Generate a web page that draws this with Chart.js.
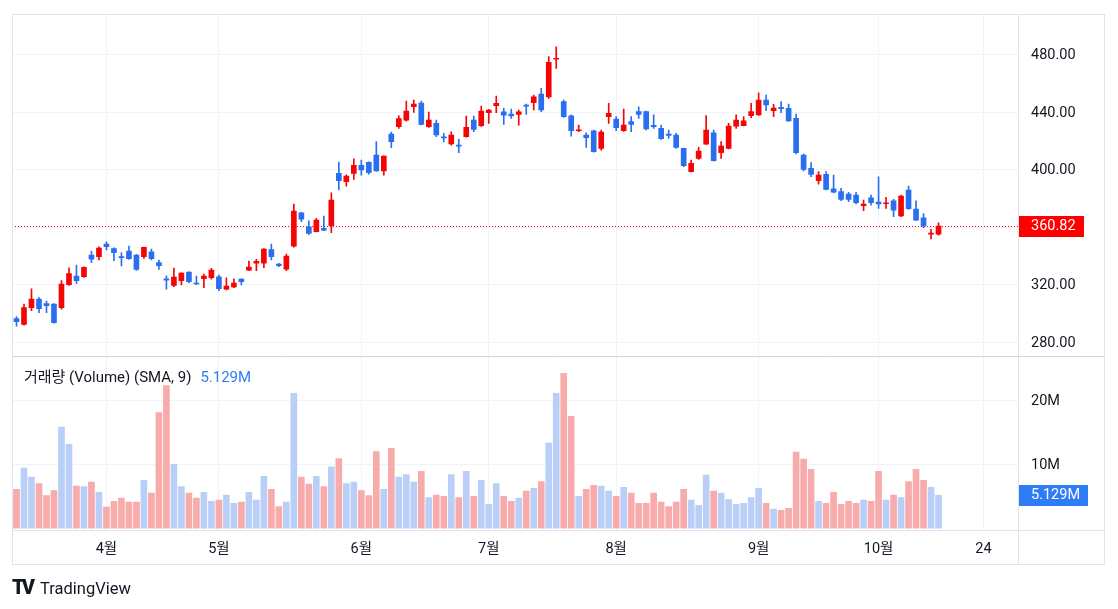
<!DOCTYPE html>
<html><head><meta charset="utf-8">
<script src="https://cdn.jsdelivr.net/npm/chart.js@4.4.1/dist/chart.umd.min.js"></script>
<style>
html,body{margin:0;padding:0;background:#fff;}
#wrap{position:relative;width:1118px;height:609px;overflow:hidden;}
#c{position:absolute;left:0;top:0;}
#legend{position:absolute;left:24px;top:368px;font:15px Roboto,'Noto Sans CJK KR',sans-serif;line-height:18px;color:#131722;white-space:nowrap;}
#legend .v{color:#2f7df6;margin-left:9px;}
#logo{position:absolute;left:12px;top:577px;font:16.5px Roboto,sans-serif;line-height:20px;color:#131722;white-space:nowrap;}
#logo b{font-size:20px;font-weight:900;letter-spacing:-3px;margin-right:8px;}
</style></head>
<body><div id="wrap"><canvas id="c" width="1118" height="609"></canvas>
<div id="legend">거래량 (Volume) (SMA, 9)<span class="v">5.129M</span></div>
<div id="logo"><b>TV</b>TradingView</div></div>
<script>
// ---- data (one entry per trading day) ----
const openP = [296.6,292.5,304.1,310.1,306.9,306.6,304.1,320.1,326.1,325.6,340.7,339.6,348.3,345.3,339.6,343.5,340.7,339.6,343.0,335.4,
324.2,319.6,322.9,328.9,321.2,324.2,324.9,325.6,316.9,318.5,324.0,330.2,335.0,335.0,344.6,334.5,330.9,346.9,370.0,360.4,
357.0,359.3,361.1,397.5,391.7,397.5,403.1,405.2,410.3,399.3,424.9,430.0,434.6,443.9,446.4,430.0,432.3,422.7,418.1,417.2,
423.1,434.6,430.7,439.8,444.6,440.4,438.8,438.6,445.1,446.7,452.7,450.8,476.9,447.4,437.5,427.2,424.2,427.2,414.9,437.0,
435.3,427.2,433.5,440.5,440.5,430.9,428.8,424.9,424.2,414.9,398.7,408.0,417.9,425.8,411.9,414.9,430.4,430.7,437.7,438.2,
448.5,441.2,443.5,442.8,435.9,410.3,401.0,392.4,396.8,386.7,384.8,383.1,382.4,375.0,380.6,377.6,376.4,378.5,367.9,385.9,
372.7,366.6,355.3,355.3];
const highP = [297.9,306.6,317.3,311.2,308.7,307.0,322.9,331.9,333.8,332.6,343.5,346.5,349.9,345.7,342.3,346.9,341.2,346.2,344.9,337.3,
326.3,331.6,328.4,329.1,326.1,327.5,331.4,326.8,324.9,324.2,324.1,336.6,337.7,345.3,348.3,335.0,341.4,376.2,370.4,364.6,
366.2,367.9,384.0,405.4,396.6,407.7,406.8,405.6,419.6,409.8,426.3,437.5,447.8,448.5,447.8,440.2,434.6,425.4,426.5,421.2,
437.4,437.4,444.4,442.0,451.3,442.8,442.3,441.6,445.8,452.0,456.7,478.7,485.6,448.5,438.2,431.1,425.8,427.7,427.7,446.2,
437.0,442.3,437.0,443.9,440.8,438.2,431.1,427.7,425.4,415.1,406.8,415.6,437.7,427.7,419.6,432.3,438.2,437.0,446.2,453.6,
452.0,445.5,447.4,445.8,438.8,411.0,405.0,398.7,398.7,396.4,387.1,384.3,384.3,379.0,382.4,395.2,380.8,379.4,382.4,388.7,
378.5,369.6,358.6,363.2];
const lowP = [291.3,291.9,302.0,300.6,300.6,293.4,303.0,319.6,321.0,325.1,335.4,337.3,344.2,336.8,333.1,337.7,330.1,338.4,337.3,330.7,
316.9,318.7,319.9,321.5,320.1,318.0,324.0,315.9,316.4,318.0,319.9,329.8,329.8,332.0,337.3,332.6,329.8,346.2,363.9,355.1,
356.8,357.6,356.3,386.0,388.7,393.3,396.3,397.0,399.0,396.3,415.4,428.8,433.9,440.0,431.2,429.5,423.1,419.4,417.2,411.9,
422.7,426.5,430.2,432.3,439.8,431.6,435.7,431.1,438.6,441.6,440.4,449.7,470.5,436.5,423.5,426.5,415.6,412.3,413.7,432.3,
427.2,426.7,426.5,435.7,427.7,428.8,421.2,421.9,414.9,402.2,398.5,407.3,417.6,406.1,408.0,414.6,428.8,430.5,436.3,437.8,
441.2,437.0,439.8,433.7,411.0,399.3,395.2,390.1,386.0,384.0,378.5,377.8,376.2,371.6,375.5,373.2,373.2,367.4,367.4,372.4,
364.8,359.7,351.9,354.6];
const closeP = [294.3,304.1,310.1,303.4,305.5,293.6,320.6,327.9,322.9,332.1,337.9,345.6,346.5,342.3,338.9,338.2,330.7,346.0,338.2,333.3,
323.3,325.4,328.2,322.2,320.6,326.1,330.2,317.3,319.2,321.2,322.2,332.4,336.3,344.9,339.6,333.3,340.0,371.3,365.7,355.8,
365.0,358.1,379.0,392.4,395.7,403.1,400.0,398.0,399.3,409.6,419.6,435.7,440.9,445.8,431.6,434.6,424.2,422.2,424.2,416.5,
429.5,428.1,440.9,441.6,446.2,438.1,437.5,440.4,444.2,450.8,441.6,474.8,477.6,437.0,427.2,427.9,422.4,412.6,426.3,439.3,
429.3,431.1,431.6,438.6,428.4,430.0,421.7,424.0,415.6,402.9,404.5,413.1,427.7,406.4,416.5,430.4,434.6,434.1,440.5,448.5,
445.1,443.0,442.5,434.1,411.9,400.3,396.8,396.4,386.4,384.4,379.4,379.4,377.1,376.2,377.1,376.2,377.1,372.0,381.7,373.0,
365.0,360.9,355.8,360.82];
const volumeM = [6.1,9.4,8.0,7.0,5.1,5.9,15.8,13.1,6.6,6.5,7.2,5.6,3.3,4.2,4.7,4.1,4.1,7.5,5.5,18.1,
22.3,10.0,6.5,5.5,4.7,5.6,4.2,4.4,5.2,3.9,4.1,5.6,4.4,8.1,6.1,3.4,4.1,21.1,8.0,6.9,
8.1,6.5,9.6,10.9,7.0,7.2,5.9,5.1,12.0,6.1,12.5,8.0,8.4,7.2,8.9,4.8,5.2,5.0,8.4,4.8,
8.9,5.0,7.5,3.75,7.0,5.0,4.2,4.7,5.8,6.25,7.3,13.3,21.1,24.2,17.5,5.0,6.1,6.7,6.6,5.8,
5.0,6.4,5.5,3.9,3.9,5.5,4.1,3.4,4.1,6.1,4.4,3.6,8.3,5.8,5.5,4.5,3.75,3.9,4.8,6.25,
3.9,3.0,2.8,3.1,11.9,10.8,9.2,4.2,3.9,5.6,3.75,4.2,3.9,4.4,4.2,8.9,4.4,5.2,4.8,7.3,
9.2,7.5,6.4,5.129];
const timeTickIdx = [12, 27, 46, 63, 80, 99, 115, 129];
const timeTickLabels = ['4월', '5월', '6월', '7월', '8월', '9월', '10월', '24'];
const priceTicks = [280, 320, 360, 400, 440, 480];
const volumeTicks = [10, 20];
const lastPriceLabel = '360.82';
const lastVolumeLabel = '5.129M';

// ---- styles ----
const UP = '#f50505', DOWN = '#2a6ff0';
const VOL_UP = '#b9cff7', VOL_DOWN = '#f8abab';
const GRID = '#f0f3fa', FRAME = '#e0e3eb', TEXT = '#131722';

const isUp = i => closeP[i] >= openP[i];
const bodies = openP.map((o, i) => ({x: i, y: [o, closeP[i]]}));
const wicks = lowP.map((l, i) => ({x: i, y: [l, highP[i]]}));
const vols = volumeM.map((v, i) => ({x: i, y: v}));

Chart.defaults.font.family = "Roboto, 'Noto Sans CJK KR', sans-serif";
Chart.defaults.font.size = 14.5;
Chart.defaults.color = TEXT;

const noPad = s => { s.paddingTop = 0; s.paddingBottom = 0; };

const deco = {
  id: 'deco',
  beforeDatasetsDraw(chart) {
    const {ctx, chartArea: a, scales: {y}} = chart;
    const py = Math.round(y.getPixelForValue(closeP[closeP.length - 1])) + 0.5;
    ctx.save();
    ctx.strokeStyle = '#ff0000'; ctx.lineWidth = 1; ctx.setLineDash([1, 2]);
    ctx.beginPath(); ctx.moveTo(a.left, py); ctx.lineTo(a.right, py); ctx.stroke();
    ctx.restore();
  },
  afterDraw(chart) {
    const {ctx, chartArea: a, scales: {y, yv, x}} = chart;
    ctx.save();
    ctx.strokeStyle = FRAME; ctx.lineWidth = 1;
    const L = a.left + 0.5, R = y.right + 0.5, T = a.top + 0.5, B = Math.round(x.bottom) + 0.5;
    ctx.strokeRect(L, T, R - L, B - T);
    ctx.beginPath();
    ctx.moveTo(Math.round(a.right) + 0.5, T); ctx.lineTo(Math.round(a.right) + 0.5, B);
    ctx.moveTo(L, Math.round(a.bottom) + 0.5); ctx.lineTo(R, Math.round(a.bottom) + 0.5);
    ctx.stroke();
    ctx.strokeStyle = '#d1d4dc';
    ctx.beginPath();
    ctx.moveTo(L, Math.round(y.bottom) + 0.5); ctx.lineTo(R, Math.round(y.bottom) + 0.5);
    ctx.stroke();
    // last value labels
    ctx.font = "14.5px Roboto, sans-serif";
    ctx.textBaseline = 'middle'; ctx.textAlign = 'left';
    const py = y.getPixelForValue(closeP[closeP.length - 1]);
    ctx.fillStyle = '#ff0000';
    ctx.fillRect(a.right + 1, Math.round(py) - 10, 65, 21);
    ctx.fillStyle = '#fff';
    ctx.fillText(lastPriceLabel, a.right + 13, Math.round(py) + 0.5);
    const vy = yv.getPixelForValue(volumeM[volumeM.length - 1]);
    ctx.fillStyle = '#2f7df6';
    ctx.fillRect(a.right + 1, Math.round(vy) - 10, 69, 21);
    ctx.fillStyle = '#fff';
    ctx.fillText(lastVolumeLabel, a.right + 13, Math.round(vy) + 0.5);
    ctx.restore();
  }
};

new Chart(document.getElementById('c'), {
  type: 'bar',
  data: {
    datasets: [
      {label: 'wick', data: wicks, yAxisID: 'y', grouped: false, barThickness: 1, minBarLength: 1,
       backgroundColor: c => isUp(c.dataIndex) ? UP : DOWN},
      {label: 'body', data: bodies, yAxisID: 'y', grouped: false, barThickness: 5, minBarLength: 1,
       backgroundColor: c => isUp(c.dataIndex) ? UP : DOWN},
      {label: 'volume', data: vols, yAxisID: 'yv', grouped: false, barThickness: 6,
       backgroundColor: c => isUp(c.dataIndex) ? VOL_UP : VOL_DOWN}
    ]
  },
  options: {
    responsive: false, animation: false,
    layout: {padding: {left: 12, top: 14, right: 14, bottom: 45}},
    plugins: {legend: {display: false}, tooltip: {enabled: false}},
    scales: {
      x: {
        type: 'linear', position: 'bottom', min: -0.6, max: 133.6, offset: false,
        afterBuildTicks: s => { s.ticks = timeTickIdx.map(v => ({value: v})); },
        afterFit: s => { s.height = 34; s.paddingLeft = 0; s.paddingRight = 0; },
        ticks: {autoSkip: false, maxRotation: 0, padding: 11, color: TEXT,
                callback: v => timeTickLabels[timeTickIdx.indexOf(v)]},
        grid: {color: GRID, drawTicks: false, offset: false}, border: {display: false}
      },
      y: {
        type: 'linear', position: 'right', stack: 'panes', stackWeight: 341.7,
        min: 270.7, max: 508.4,
        afterBuildTicks: s => { s.ticks = priceTicks.map(v => ({value: v})); },
        afterFit: s => { s.width = 86; noPad(s); },
        ticks: {padding: 13, color: TEXT, labelOffset: 1, callback: v => v.toFixed(2)},
        grid: {color: GRID, drawTicks: false}, border: {display: false}
      },
      yv: {
        type: 'linear', position: 'right', stack: 'panes', stackWeight: 174.3,
        min: -0.27, max: 26.97,
        afterBuildTicks: s => { s.ticks = volumeTicks.map(v => ({value: v})); },
        afterFit: s => { s.width = 86; noPad(s); },
        ticks: {padding: 13, color: TEXT, labelOffset: 1, callback: v => v + 'M'},
        grid: {color: GRID, drawTicks: false}, border: {display: false}
      }
    }
  },
  plugins: [deco]
});
</script>
</body></html>
